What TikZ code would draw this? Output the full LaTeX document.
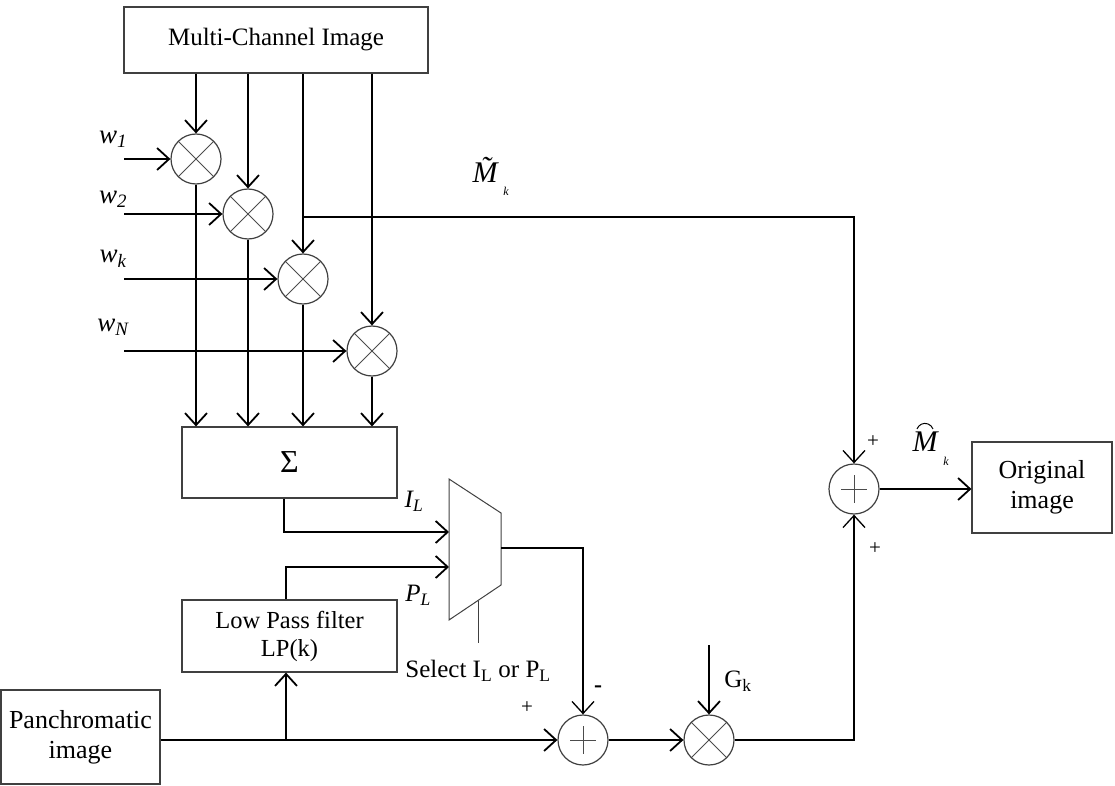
\documentclass[tikz,border=0pt]{standalone}
\usepackage{fontspec}
\setmainfont{Liberation Serif}
\usetikzlibrary{arrows.meta,calc}
\begin{document}
\begin{tikzpicture}[x=1pt,y=-1pt,
  shp/.style={draw=black!75, line width=1.2pt},
  boxn/.style={shp, inner sep=0pt, align=center, font=\fontsize{25}{30}\selectfont},
  mult/.style={circle, shp, minimum size=50pt, inner sep=0pt,
    path picture={\draw[black!70, line width=0.9pt]
      (path picture bounding box.north west) -- (path picture bounding box.south east)
      (path picture bounding box.north east) -- (path picture bounding box.south west);}},
  addn/.style={circle, shp, minimum size=50pt, inner sep=0pt,
    path picture={\draw[black!70, line width=0.9pt]
      ($(path picture bounding box.center)+(-13,0)$) -- ($(path picture bounding box.center)+(13,0)$)
      ($(path picture bounding box.center)+(0,-14)$) -- ($(path picture bounding box.center)+(0,14)$);}},
  arr/.style={line width=1.8pt, -{Straight Barb[length=12pt,width=22pt]}},
  ln/.style={line width=1.3pt},
  lbl/.style={inner sep=0pt, font=\fontsize{25}{30}\selectfont},
  sm/.style={inner sep=0pt, font=\fontsize{21}{24}\selectfont}]
\useasboundingbox (0,0) rectangle (1115,786);

% boxes
\node[boxn, minimum width=304pt, minimum height=66pt] (mci) at (276,40) {Multi-Channel Image};
\node[boxn, minimum width=215pt, minimum height=71pt, font=\fontsize{32}{34}\selectfont] (sum) at (289.5,462.5) {Σ};
\node[boxn, minimum width=215pt, minimum height=72pt, font=\fontsize{24.5}{28}\selectfont] (lpf) at (289.5,636) {Low Pass filter\\LP(k)};
\node[boxn, minimum width=159pt, minimum height=94pt, font=\fontsize{26}{30}\selectfont] (pan) at (80.5,737) {Panchromatic\\image};
\node[boxn, minimum width=140pt, minimum height=91pt, font=\fontsize{26}{30}\selectfont] (orig) at (1042,487.5) {Original\\image};

% multipliers
\node[mult] (m1) at (196,159) {};
\node[mult] (m2) at (248,214) {};
\node[mult] (m3) at (303,279) {};
\node[mult] (m4) at (372,351) {};
\node[addn] (add) at (854,489) {};
\node[addn] (sub) at (583,740) {};
\node[mult] (gk) at (709,740) {};

% weight inputs
\coordinate (w1s) at (124,159);
\coordinate (w2s) at (124,214);
\coordinate (wks) at (124,279);
\coordinate (wNs) at (124,351);
\draw[arr] (w1s) -- (m1.west);
\draw[arr] (w2s) -- (m2.west);
\draw[arr] (wks) -- (m3.west);
\draw[arr] (wNs) -- (m4.west);
\node[lbl, font=\fontsize{27}{30}\selectfont] (lw1) at (113,139) {\itshape w\textsubscript{1}};
\node[lbl, font=\fontsize{27}{30}\selectfont] (lw2) at (113,199) {\itshape w\textsubscript{2}};
\node[lbl, font=\fontsize{27}{30}\selectfont] (lwk) at (113,259) {\itshape w\textsubscript{k}};
\node[lbl, font=\fontsize{27}{30}\selectfont] (lwN) at (113,327) {\itshape w\textsubscript{N}};

% channel lines
\draw[arr] (mci.south -| m1.north) -- (m1.north);
\draw[arr] (mci.south -| m2.north) -- (m2.north);
\draw[arr] (mci.south -| m3.north) -- (m3.north);
\draw[arr] (mci.south -| m4.north) -- (m4.north);
\draw[arr] (m1.south) -- (m1.south |- sum.north);
\draw[arr] (m2.south) -- (m2.south |- sum.north);
\draw[arr] (m3.south) -- (m3.south |- sum.north);
\draw[arr] (m4.south) -- (m4.south |- sum.north);

% M tilde branch
\coordinate (br) at (303,217);
\draw[ln, -{Straight Barb[length=12pt,width=22pt]}] (br) -- (br -| add.north) -- (add.north);
\node[inner sep=0pt, font=\fontsize{30}{32}\selectfont\itshape] (mt) at (485,170) {\~{M}};
\node[inner sep=0pt, font=\fontsize{12}{13}\selectfont\itshape] (mtk) at (506,191) {k};

% mux
\coordinate (mux1) at (449,479);
\coordinate (mux2) at (501,513);
\coordinate (mux3) at (501,585);
\coordinate (mux4) at (449,620);
\draw[shp, line width=1pt] (mux1) -- (mux2) -- (mux3) -- (mux4) -- cycle;
\coordinate (muxI) at (449,532);
\coordinate (muxP) at (449,567);
\coordinate (muxO) at (501,548);
\coordinate (muxS) at (478,601);
\coordinate (selE) at (478,643);
\draw[shp, line width=1pt] (muxS) -- (selE);
\draw[arr] (sum.south -| 284,0) |- (muxI);
\draw[arr] (lpf.north -| 286,0) |- (muxP);
\draw[ln, -{Straight Barb[length=12pt,width=22pt]}] (muxO) -| (sub.north);
\node[lbl] (il) at (414,501) {\itshape I\textsubscript{L}};
\node[lbl] (pl) at (418,595) {\itshape P\textsubscript{L}};
\node[lbl] (sel) at (478,671) {Select I\textsubscript{L} or P\textsubscript{L}};

% panchromatic path
\coordinate (jn) at (286,740);
\draw[arr] (pan.east |- sub.west) -- (sub.west);
\draw[arr] (jn) -- (lpf.south -| jn);
\draw[arr] (sub.east) -- (gk.west);
\coordinate (gkin) at (709,645);
\draw[arr] (gkin) -- (gk.north);
\node[lbl] (glab) at (738,681) {G\textsubscript{k}};
\draw[ln, -{Straight Barb[length=12pt,width=22pt]}] (gk.east) -| (add.south);
\draw[arr] (add.east) -- (add.east -| orig.west);

% signs
\node[sm] (p1) at (873,442) {+};
\node[sm] (p2) at (875,549) {+};
\node[sm] (p3) at (527,708) {+};
\node[sm, font=\fontsize{24}{26}\selectfont\bfseries] (mn) at (598,689) {-};

% M hat
\node[inner sep=0pt, font=\fontsize{30}{32}\selectfont\itshape] (mh) at (925,442) {M};
\draw[line width=1pt] ($(mh.north)+(-8,-3)$) arc[start angle=160, end angle=20, radius=8.5pt];
\node[inner sep=0pt, font=\fontsize{12}{13}\selectfont\itshape] (mhk) at (946,461) {k};
\end{tikzpicture}
\end{document}
